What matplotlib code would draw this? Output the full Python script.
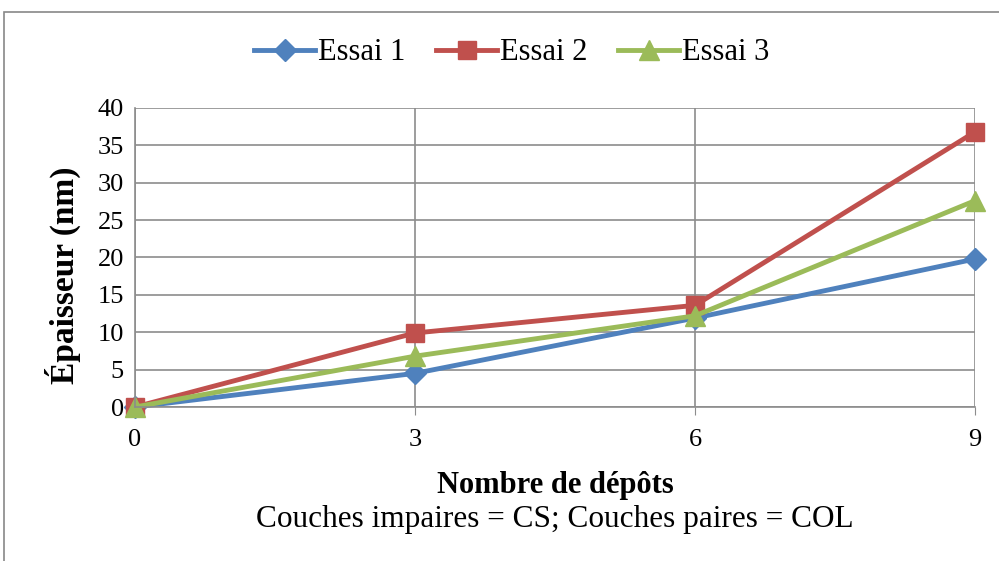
import matplotlib.pyplot as plt
from matplotlib.patches import Rectangle

# Données
depots = [0, 3, 6, 9]
essai1 = [0, 4.5, 11.9, 19.8]
essai2 = [0, 9.9, 13.6, 36.8]
essai3 = [0, 6.8, 12.2, 27.6]
yticks = [0, 5, 10, 15, 20, 25, 30, 35, 40]


def main():
    plt.rcParams['font.family'] = ['Liberation Serif', 'DejaVu Serif']

    fig = plt.figure(figsize=(9.99, 5.61), dpi=100)
    ax = fig.add_axes([0.1351, 0.2745, 0.976 - 0.1351, 0.8075 - 0.2745])

    # cadre extérieur
    fig.patches.append(Rectangle((4 / 999, -0.1), 1.2, (561 - 12) / 561 + 0.1,
                                 transform=fig.transFigure, fill=False,
                                 edgecolor='#888888', linewidth=1.2))

    ax.plot(depots, essai1, color='#4F81BD', lw=3.5, marker='D', ms=11, label='Essai 1', clip_on=False)
    ax.plot(depots, essai2, color='#C0504D', lw=3.5, marker='s', ms=13, label='Essai 2', clip_on=False)
    ax.plot(depots, essai3, color='#9BBB59', lw=3.5, marker='^', ms=14, label='Essai 3', clip_on=False)

    ax.set_xlim(0, 9)
    ax.set_ylim(0, 40)
    ax.set_xticks(depots)
    ax.set_yticks(yticks)
    ax.grid(True, color='#8c8c8c', lw=1.2)
    ax.set_axisbelow(True)
    for s in ['top', 'right']:
        ax.spines[s].set_visible(False)
    for s in ['left', 'bottom']:
        ax.spines[s].set_color('#8c8c8c')
        ax.spines[s].set_linewidth(1.2)
    ax.tick_params(axis='x', length=6, color='#8c8c8c', labelsize=19, pad=10)
    ax.tick_params(axis='y', length=0, labelsize=19, pad=8)

    ax.set_xlabel('Nombre de dépôts', fontsize=22, fontweight='bold', labelpad=14)
    ax.set_ylabel('Épaisseur (nm)', fontsize=24, fontweight='bold')
    ax.yaxis.set_label_coords(-0.064, 0.44)
    fig.text(555 / 999, 1 - 519 / 561, 'Couches impaires = CS; Couches paires = COL',
             ha='center', va='center', fontsize=22.5)

    fig.legend(loc='center', bbox_to_anchor=(512 / 999, 1 - 53 / 561), ncol=3, frameon=False,
               fontsize=22, handlelength=2.0, handletextpad=0.1, columnspacing=1.0)

    fig.savefig('out.png', dpi=100)


if __name__ == "__main__":
    main()
